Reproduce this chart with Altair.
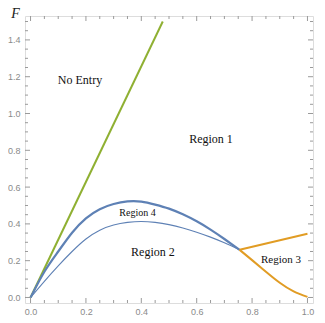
import altair as alt
import pandas as pd

# ---- data ----
green_l = [0.0, 0.4775]
green_f = [0.0, 1.5]

thick_l = [0.0, 0.05, 0.1, 0.15, 0.2, 0.25, 0.3, 0.35, 0.4, 0.45, 0.5, 0.55, 0.6, 0.65, 0.7, 0.755]
thick_f = [0.0, 0.14, 0.25, 0.352, 0.43, 0.48, 0.508, 0.522, 0.521, 0.505, 0.483, 0.452, 0.414, 0.369, 0.318, 0.259]

thin_l = [0.0, 0.05, 0.1, 0.15, 0.2, 0.25, 0.3, 0.35, 0.4, 0.45, 0.5, 0.55, 0.6, 0.65, 0.7, 0.755]
thin_f = [0.0, 0.088, 0.172, 0.25, 0.318, 0.366, 0.394, 0.408, 0.413, 0.408, 0.396, 0.378, 0.355, 0.328, 0.297, 0.259]

orange_up_l = [0.755, 1.0]
orange_up_f = [0.259, 0.346]

orange_low_l = [0.755, 0.8, 0.85, 0.9, 0.95, 1.0]
orange_low_f = [0.259, 0.203, 0.14, 0.08, 0.033, 0.003]

label_text = ["No Entry", "Region 1", "Region 4", "Region 2", "Region 3"]
label_l = [0.1786, 0.6517, 0.3862, 0.442, 0.9045]
label_f = [1.182, 0.8615, 0.459, 0.249, 0.204]
label_size = [12, 12, 10, 12, 11]

x_major = [0.0, 0.2, 0.4, 0.6, 0.8, 1.0]
x_minor = [0.05, 0.1, 0.15, 0.25, 0.3, 0.35, 0.45, 0.5, 0.55, 0.65, 0.7, 0.75, 0.85, 0.9, 0.95]
y_major = [0.0, 0.2, 0.4, 0.6, 0.8, 1.0, 1.2, 1.4]
y_minor = [0.05, 0.1, 0.15, 0.25, 0.3, 0.35, 0.45, 0.5, 0.55, 0.65, 0.7, 0.75,
           0.85, 0.9, 0.95, 1.05, 1.1, 1.15, 1.25, 1.3, 1.35, 1.45, 1.5]

W, H = 288, 287
XDOM = [-0.02, 1.02]
YDOM = [-0.03, 1.53]
GRAY = "#9a9a9a"
LABEL_GRAY = "#8a8a8a"
SERIF = "Liberation Serif"

xs = alt.Scale(domain=XDOM, nice=False, zero=False)
ys = alt.Scale(domain=YDOM, nice=False, zero=False)


def line_df(ls, fs, name):
    return pd.DataFrame({"l": ls, "f": fs, "s": name, "o": list(range(len(ls)))})


def line_layer(df, color, width, interp="natural"):
    return alt.Chart(df).mark_line(color=color, strokeWidth=width, clip=True,
                                   interpolate=interp).encode(
        x=alt.X("l:Q", scale=xs),
        y=alt.Y("f:Q", scale=ys),
        order="o:Q",
    )


base_x_axis = alt.Axis(values=x_major, format=".1f", ticks=False, domain=False, grid=False,
                       labelColor=LABEL_GRAY, labelFontSize=9, labelFont="Liberation Sans",
                       labelPadding=4, title="λ", titleFont=SERIF,
                       titleFontStyle="italic", titleFontWeight="normal", titleFontSize=15,
                       titleColor="#222", titleX=298, titleY=10, titleAlign="center",
                       titleBaseline="middle", titleAngle=0)
base_y_axis = alt.Axis(values=y_major, format=".1f", ticks=False, domain=False, grid=False,
                       labelColor=LABEL_GRAY, labelFontSize=9, labelFont="Liberation Sans",
                       labelPadding=5, title="F", titleFont=SERIF,
                       titleFontStyle="italic", titleFontWeight="normal", titleFontSize=14,
                       titleColor="#222", titleX=-10, titleY=-3, titleAlign="center",
                       titleBaseline="middle", titleAngle=0)

green = alt.Chart(line_df(green_l, green_f, "g")).mark_line(color="#8FB032", strokeWidth=2, clip=True).encode(
    x=alt.X("l:Q", scale=xs, axis=base_x_axis),
    y=alt.Y("f:Q", scale=ys, axis=base_y_axis),
    order="o:Q",
)
thin = line_layer(line_df(thin_l, thin_f, "thin"), "#5E81B5", 1.1)
thick = line_layer(line_df(thick_l, thick_f, "thick"), "#5E81B5", 2.2)
o_up = line_layer(line_df(orange_up_l, orange_up_f, "ou"), "#E19C24", 2, "linear")
o_low = line_layer(line_df(orange_low_l, orange_low_f, "ol"), "#E19C24", 2)

labels_df = pd.DataFrame({"t": label_text, "l": label_l, "f": label_f, "sz": label_size})
labels = alt.Chart(labels_df).mark_text(font=SERIF, color="#111",
                                        align="center", baseline="middle").encode(
    x=alt.X("l:Q", scale=xs),
    y=alt.Y("f:Q", scale=ys),
    text="t:N",
    size=alt.Size("sz:Q", scale=None),
)

# inward frame ticks
def xticks(vals, length):
    df = pd.DataFrame({"v": vals})
    b = alt.Chart(df).mark_rule(color=GRAY, strokeWidth=1).encode(
        x=alt.X("v:Q", scale=xs), y=alt.value(H), y2=alt.value(H - length))
    t = alt.Chart(df).mark_rule(color=GRAY, strokeWidth=1).encode(
        x=alt.X("v:Q", scale=xs), y=alt.value(0), y2=alt.value(length))
    return [b, t]


def yticks(vals, length):
    df = pd.DataFrame({"v": vals})
    lft = alt.Chart(df).mark_rule(color=GRAY, strokeWidth=1).encode(
        y=alt.Y("v:Q", scale=ys), x=alt.value(0), x2=alt.value(length))
    rgt = alt.Chart(df).mark_rule(color=GRAY, strokeWidth=1).encode(
        y=alt.Y("v:Q", scale=ys), x=alt.value(W), x2=alt.value(W - length))
    return [lft, rgt]


tick_layers = xticks(x_major, 5) + xticks(x_minor, 3) + yticks(y_major, 5) + yticks(y_minor, 3)

chart = alt.layer(green, *tick_layers, thin, thick, o_up, o_low, labels).properties(
    width=W, height=H,
    autosize="none",
    padding={"left": 17, "top": 8, "right": 4, "bottom": 12},
).configure_view(stroke=GRAY, strokeWidth=1).configure(background="white")

chart.save("out.html", embed_options={"renderer": "svg", "actions": False})
